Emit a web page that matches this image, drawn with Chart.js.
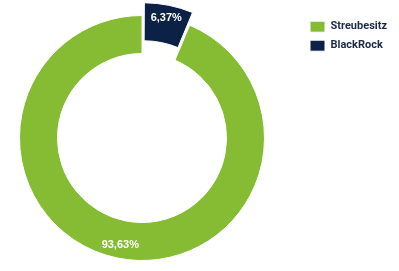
<!DOCTYPE html>
<html lang="de">
<head>
<meta charset="utf-8">
<title>Aktionärsstruktur</title>
<script src="https://cdn.jsdelivr.net/npm/chart.js@4.4.1/dist/chart.umd.min.js"></script>
<style>
  html, body { margin: 0; padding: 0; background: #fff; }
  #wrap { position: relative; width: 399px; height: 271px; overflow: hidden; }
  /* Canvas etwas größer, damit der Ring bis an den Rand reicht */
  #aktionaere { position: absolute; left: -18px; top: -1px; }
</style>
</head>
<body>
<div id="wrap"><canvas id="aktionaere" width="417" height="278"></canvas></div>
<script>
// Daten
const labels = ["Streubesitz", "BlackRock"];
const anteile = [93.63, 6.37];
const farben = ["#86bb34", "#0b2145"];
const versatz = [0, 32]; // BlackRock-Segment herausgezogen

// Prozent im deutschen Format
function formatProzent(v) {
    return v.toFixed(2).replace(".", ",") + "%";
}

// Prozentwerte in die Segmente schreiben
const segmentLabels = {
    id: "segmentLabels",
    afterDatasetsDraw(chart) {
        const ctx = chart.ctx;
        const meta = chart.getDatasetMeta(0);
        ctx.save();
        ctx.fillStyle = "#fff";
        ctx.font = "bold 11px 'Liberation Sans', Arial, sans-serif";
        ctx.textAlign = "center";
        ctx.textBaseline = "middle";
        meta.data.forEach((arc, i) => {
            const p = arc.getProps(["x", "y", "startAngle", "endAngle", "innerRadius", "outerRadius", "circumference"], true);
            const mitte = (p.startAngle + p.endAngle) / 2;
            // gleiche Verschiebung wie beim Zeichnen des Segments
            const off = (arc.options.offset || 0) / 4;
            const fix = 1 - Math.sin(Math.min(Math.PI, p.circumference));
            const r = p.innerRadius + (p.outerRadius - p.innerRadius) * 0.65 + off + off * fix;
            ctx.fillText(formatProzent(anteile[i]), p.x + Math.cos(mitte) * r, p.y + Math.sin(mitte) * r);
        });
        ctx.restore();
    }
};

// Legende mit fester Breite, damit sie rechts oben sitzt
const legendeBreite = {
    id: "legendeBreite",
    beforeInit(chart) {
        const fit = chart.legend.fit;
        chart.legend.fit = function () {
            fit.call(this);
            this.width = 97;
        };
    }
};

const summe = anteile.reduce((a, b) => a + b, 0);

new Chart(document.getElementById("aktionaere"), {
    type: "doughnut",
    data: {
        labels: labels,
        datasets: [{
            data: anteile,
            backgroundColor: farben,
            borderColor: "#fff",
            borderWidth: 1,
            offset: versatz,
            hoverOffset: versatz
        }]
    },
    options: {
        responsive: false,
        animation: false,
        events: [],
        cutout: "69%",
        rotation: anteile[1] / summe * 360,
        layout: { padding: 0 },
        plugins: {
            tooltip: { enabled: false },
            legend: {
                position: "right",
                align: "start",
                title: {
                    display: true,
                    text: " ",
                    font: { size: 1 },
                    padding: { top: 13, bottom: 0 }
                },
                labels: {
                    boxWidth: 15,
                    boxHeight: 11,
                    padding: 8,
                    color: "#1b2a47",
                    font: { family: "Roboto", size: 11, weight: "bold" }
                }
            }
        }
    },
    plugins: [segmentLabels, legendeBreite]
});
</script>
</body>
</html>
